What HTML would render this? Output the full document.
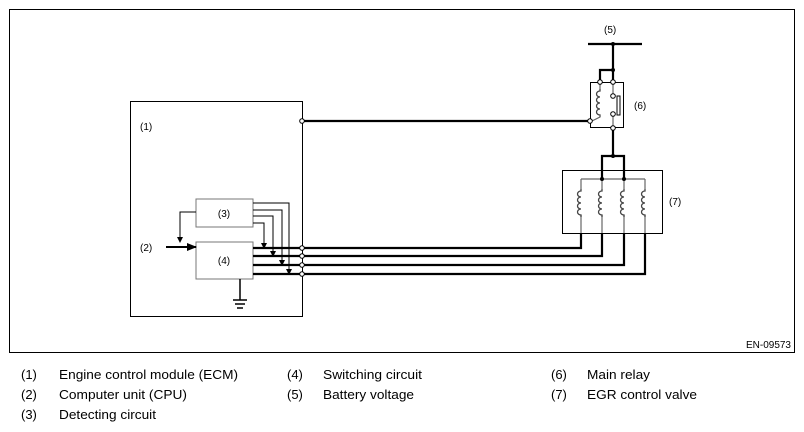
<!DOCTYPE html>
<html><head><style>html,body{margin:0;padding:0;background:#fff}svg{display:block}</style></head>
<body>
<svg width="804" height="432" viewBox="0 0 804 432" xmlns="http://www.w3.org/2000/svg" font-family="Liberation Sans, sans-serif">
<defs>
<marker id="ar" markerWidth="6" markerHeight="6" refX="5" refY="3" orient="auto" markerUnits="userSpaceOnUse"><path d="M0,0 L6,3 L0,6 z" fill="#000"/></marker>
<marker id="ab" markerWidth="10" markerHeight="8" refX="9" refY="4" orient="auto" markerUnits="userSpaceOnUse"><path d="M0,0 L10,4 L0,8 z" fill="#000"/></marker>
<g id="coil"><path d="M0,-13 v2 a3.5,3 0 1 0 0,6 a3.5,3 0 1 0 0,6 a3.5,3 0 1 0 0,6 a3.5,3 0 1 0 0,6 v2" fill="none" stroke="#444" stroke-width="1.3"/></g>
</defs>
<rect x="9.5" y="9.5" width="785" height="343" fill="none" stroke="#000" stroke-width="1"/>
<!-- ECM -->
<rect x="130.5" y="101.5" width="172" height="215" fill="none" stroke="#000" stroke-width="1"/>
<text x="140" y="130" font-size="10">(1)</text>
<rect x="196" y="199" width="57" height="28" fill="#fff" stroke="#777" stroke-width="1"/>
<text x="224" y="217" font-size="10" text-anchor="middle">(3)</text>
<rect x="196" y="242" width="57" height="37" fill="#fff" stroke="#777" stroke-width="1"/>
<text x="224" y="264" font-size="10" text-anchor="middle">(4)</text>
<text x="140" y="251" font-size="10">(2)</text>
<line x1="166" y1="247" x2="196" y2="247" stroke="#000" stroke-width="2" marker-end="url(#ab)"/>
<g fill="none" stroke="#000" stroke-width="1">
<path d="M196,212 H180 V242" marker-end="url(#ar)"/>
<path d="M253,203 H289 V274" marker-end="url(#ar)"/>
<path d="M253,210 H282 V265" marker-end="url(#ar)"/>
<path d="M253,216 H273 V256" marker-end="url(#ar)"/>
<path d="M253,223 H264 V248" marker-end="url(#ar)"/>
</g>
<g stroke="#000" stroke-width="1.5">
<line x1="240" y1="279" x2="240" y2="300"/>
<line x1="233" y1="300" x2="247" y2="300"/>
<line x1="235" y1="304" x2="245" y2="304"/>
<line x1="237" y1="308" x2="243" y2="308"/>
</g>
<g fill="none" stroke="#000" stroke-width="2.2">
<path d="M253,248 H581 V233"/>
<path d="M253,256 H602 V233"/>
<path d="M253,265 H624 V233"/>
<path d="M253,274 H645 V233"/>
<path d="M302,121 H590"/>
<path d="M588,44 H642"/>
<path d="M613,44 V82"/>
<path d="M613,70 H600 V82"/>
<path d="M613,128 V156"/>
<path d="M602,179 V156 H624 V179"/>
</g>
<rect x="590.5" y="82.5" width="33" height="45" fill="none" stroke="#000" stroke-width="1"/>
<g fill="none" stroke="#666" stroke-width="1.2">
<path d="M600,82 V89"/>
<use href="#coil" x="600" y="102"/>
<path d="M600,115 V117 L592,121"/>
<path d="M613,82 V96"/>
<path d="M613,114 V128"/>
</g>
<rect x="617" y="96" width="3" height="19" fill="#fff" stroke="#000" stroke-width="1"/>
<text x="634" y="109" font-size="10">(6)</text>
<text x="604" y="33" font-size="10">(5)</text>
<rect x="562.5" y="170.5" width="100" height="63" fill="none" stroke="#000" stroke-width="1"/>
<g fill="none" stroke="#666" stroke-width="1.2">
<path d="M581,179 H645"/>
<path d="M581,179 V189 M581,215 V233"/>
<path d="M602,179 V189 M602,215 V233"/>
<path d="M624,179 V189 M624,215 V233"/>
<path d="M645,179 V189 M645,215 V233"/>
</g>
<use href="#coil" x="581" y="202"/><use href="#coil" x="602" y="202"/><use href="#coil" x="624" y="202"/><use href="#coil" x="645" y="202"/>
<text x="669" y="205" font-size="10">(7)</text>
<g fill="#000"><circle cx="613" cy="44" r="2"/><circle cx="613" cy="70" r="2"/><circle cx="613" cy="156" r="2"/><circle cx="602" cy="179" r="2"/><circle cx="624" cy="179" r="2"/></g>
<g fill="#fff" stroke="#000" stroke-width="1">
<circle cx="302" cy="121" r="2.3"/><circle cx="302" cy="248" r="2.3"/><circle cx="302" cy="256" r="2.3"/><circle cx="302" cy="265" r="2.3"/><circle cx="302" cy="274" r="2.3"/>
<circle cx="600" cy="82" r="2.3"/><circle cx="613" cy="82" r="2.3"/><circle cx="613" cy="96" r="2.3"/><circle cx="613" cy="114" r="2.3"/><circle cx="613" cy="128" r="2.3"/><circle cx="590" cy="121" r="2.3"/>
</g>
<text x="791" y="348" font-size="10" text-anchor="end">EN-09573</text>
<g font-size="13">
<text x="21" y="379">(1)</text><text x="59" y="379" textLength="179" lengthAdjust="spacingAndGlyphs">Engine control module (ECM)</text>
<text x="21" y="399">(2)</text><text x="59" y="399" textLength="128" lengthAdjust="spacingAndGlyphs">Computer unit (CPU)</text>
<text x="21" y="419">(3)</text><text x="59" y="419" textLength="97" lengthAdjust="spacingAndGlyphs">Detecting circuit</text>
<text x="287" y="379">(4)</text><text x="323" y="379" textLength="99" lengthAdjust="spacingAndGlyphs">Switching circuit</text>
<text x="287" y="399">(5)</text><text x="323" y="399" textLength="91" lengthAdjust="spacingAndGlyphs">Battery voltage</text>
<text x="551" y="379">(6)</text><text x="587" y="379" textLength="63" lengthAdjust="spacingAndGlyphs">Main relay</text>
<text x="551" y="399">(7)</text><text x="587" y="399" textLength="110" lengthAdjust="spacingAndGlyphs">EGR control valve</text>
</g>
</svg>
</body></html>
